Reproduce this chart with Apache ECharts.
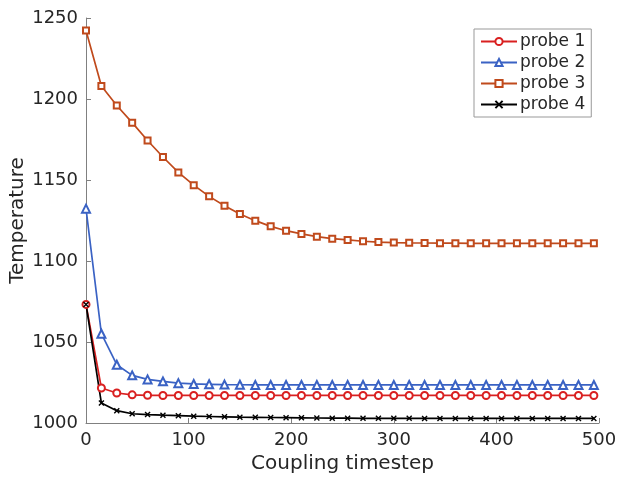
<!DOCTYPE html>
<html>
<head>
<meta charset="utf-8">
<script src="https://cdn.jsdelivr.net/npm/echarts@6/dist/echarts.min.js"></script>
<style>html,body{margin:0;padding:0;background:#fff}#c{width:617px;height:481px}</style>
</head>
<body>
<div id="c"></div>
<script>
const timesteps = [0,15,30,45,60,75,90,105,120,135,150,165,180,195,210,225,240,255,270,285,300,315,330,345,360,375,390,405,420,435,450,465,480,495];
const probe1 = [1073.2,1021.6,1018.5,1017.4,1017.1,1017.0,1017.0,1017.0,1017.0,1017.0,1017.0,1017.0,1017.0,1017.0,1017.0,1017.0,1017.0,1017.0,1017.0,1017.0,1017.0,1017.0,1017.0,1017.0,1017.0,1017.0,1017.0,1017.0,1017.0,1017.0,1017.0,1017.0,1017.0,1017.0];
const probe2 = [1132.3,1055.1,1036.0,1029.4,1026.9,1025.7,1024.6,1024.1,1023.9,1023.7,1023.6,1023.5,1023.5,1023.5,1023.5,1023.5,1023.5,1023.5,1023.5,1023.5,1023.5,1023.5,1023.5,1023.5,1023.5,1023.5,1023.5,1023.5,1023.5,1023.5,1023.5,1023.5,1023.5,1023.5];
const probe3 = [1242.3,1208.0,1196.0,1185.4,1174.4,1164.2,1154.7,1146.8,1139.9,1134.1,1129.0,1124.9,1121.4,1118.7,1116.7,1115.0,1113.8,1113.0,1112.2,1111.7,1111.4,1111.2,1111.1,1111.0,1111.0,1110.9,1110.9,1110.9,1110.9,1110.9,1110.9,1110.9,1110.9,1110.9];
const probe4 = [1073.2,1012.3,1007.6,1005.7,1005.2,1004.8,1004.5,1004.2,1004.0,1003.8,1003.6,1003.5,1003.4,1003.3,1003.2,1003.1,1003.0,1003.0,1002.9,1002.9,1002.9,1002.9,1002.8,1002.8,1002.8,1002.8,1002.8,1002.8,1002.8,1002.8,1002.8,1002.8,1002.8,1002.8];
const seriesNames = ['probe 1','probe 2','probe 3','probe 4'];
const xTicks = {min:0,max:500,interval:100};
const yTicks = {min:1000,max:1250,interval:50};

const font = 'DejaVu Sans';
const txt = '#262626';
const axisGray = '#808080';
const pair = arr => arr.map((v,i)=>[timesteps[i], v]);
const xPath = 'path://M0,0L10,10M10,0L0,10';

function mk(name, data, color, symbol, size) {
  return {
    name, type:'line', data: pair(data),
    symbol, symbolSize:size, showSymbol:true,
    lineStyle:{color, width:1.7},
    itemStyle:{color: color, borderColor:color, borderWidth:1.4},
    emphasis:{disabled:true}, animation:false, z: 2
  };
}

const chart = echarts.init(document.getElementById('c'), null, {renderer:'canvas'});
chart.setOption({
  animation:false,
  backgroundColor:'#fff',
  grid:{left:86, right:18, top:18, bottom:58, containLabel:false, outerBoundsMode:'none'},
  legend:{
    data: seriesNames, orient:'vertical', left:474, top:29,
    borderColor:'#999', borderWidth:1, padding:[4,6,4,6], itemGap:4,
    itemWidth:36, itemHeight:9,
    textStyle:{fontFamily:font, fontSize:17, color:txt, padding:[0,0,0,-2]}
  },
  xAxis:{
    type:'value', min:xTicks.min, max:xTicks.max, interval:xTicks.interval,
    name:'Coupling timestep', nameLocation:'middle', nameGap:31, nameMoveOverlap:false,
    nameTextStyle:{fontFamily:font, fontSize:20, color:txt},
    axisLine:{show:true, lineStyle:{color:axisGray, width:1}},
    axisTick:{show:true, inside:true, length:5, lineStyle:{color:axisGray}},
    axisLabel:{fontFamily:font, fontSize:18, color:txt, margin:8, formatter: v => String(v)},
    splitLine:{show:false}
  },
  yAxis:{
    type:'value', min:yTicks.min, max:yTicks.max, interval:yTicks.interval,
    name:'Temperature', nameLocation:'middle', nameGap:58, nameMoveOverlap:false,
    nameTextStyle:{fontFamily:font, fontSize:20, color:txt},
    axisLine:{show:true, lineStyle:{color:axisGray, width:1}},
    axisTick:{show:true, inside:true, length:5, lineStyle:{color:axisGray}},
    axisLabel:{fontFamily:font, fontSize:18, color:txt, margin:8, formatter: v => String(v)},
    splitLine:{show:false}
  },
  series:[
    mk(seriesNames[0], probe1, '#d92020', 'emptyCircle', 7),
    mk(seriesNames[1], probe2, '#3a62c4', 'emptyTriangle', 8),
    mk(seriesNames[2], probe3, '#c04a1c', 'emptyRect', 6),
    mk(seriesNames[3], probe4, '#000000', xPath, 5)
  ]
});
</script>
</body>
</html>
